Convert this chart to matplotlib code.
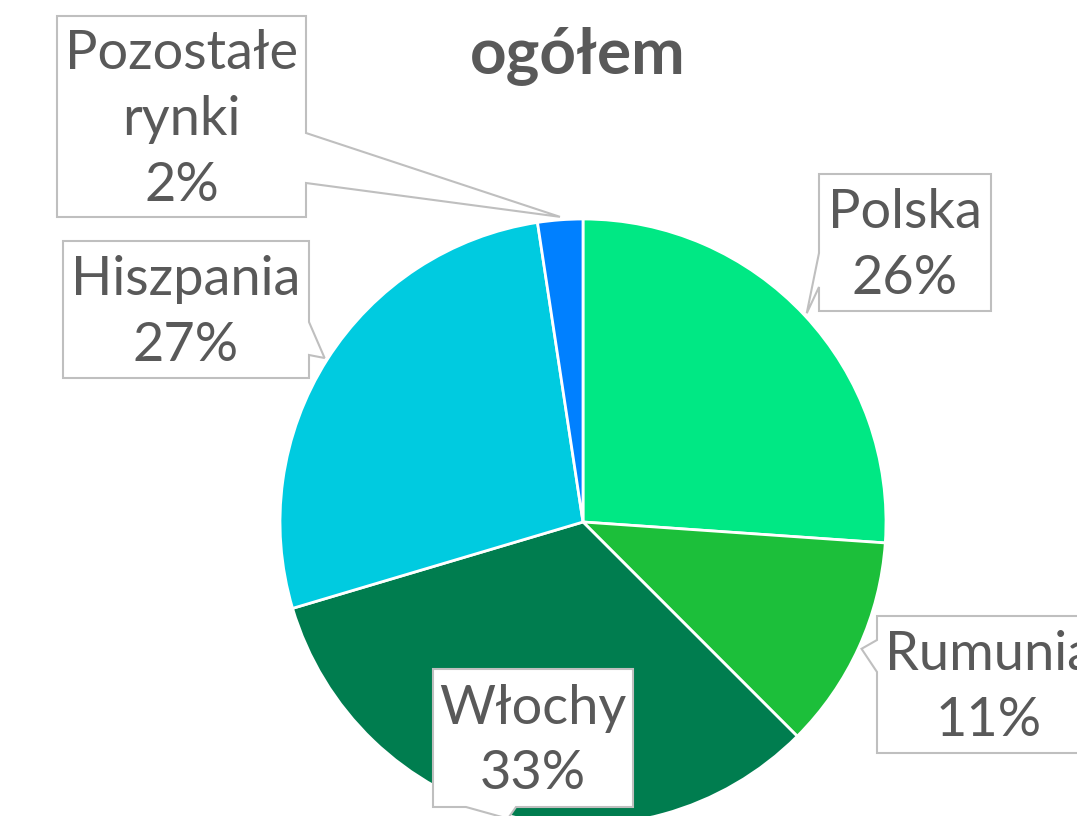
import numpy as np
import matplotlib
matplotlib.use("Agg")
import matplotlib.pyplot as plt
from matplotlib.patches import Polygon

# Data (share of sales per market)
labels = ['Polska', 'Rumunia', 'Włochy', 'Hiszpania', 'Pozostałe\nrynki']
values = [26.1, 11.4, 32.9, 27.2, 2.4]
shown = ['26%', '11%', '33%', '27%', '2%']
colors = ['#00E884', '#1CBF3A', '#007D4F', '#00CBE0', '#0080FF']

plt.rcParams['font.family'] = ['Lato', 'DejaVu Sans']
text_color = '#595959'
border = '#BFBFBF'

fig = plt.figure(figsize=(10.77, 8.16), dpi=100)
ax = fig.add_axes([0, 0, 1, 1])

# pie radius 1 -> 303 px, center at pixel (583, 522)
R = 303.0

wedges, _ = ax.pie(values, colors=colors, startangle=90, counterclock=False,
                   radius=1, center=(0, 0),
                   wedgeprops=dict(edgecolor='white', linewidth=2))
ax.set_xlim(-583 / R, (1077 - 583) / R)
ax.set_ylim(-(816 - 522) / R, 522 / R)
ax.set_aspect('equal')
ax.axis('off')


def px(x, y):
    return ((x - 583) / R, (522 - y) / R)


# callout boxes: (left, top, right, bottom) in pixels, side of notch, notch ends in pixels
boxes = [
    ((819, 174, 991, 311), 'left', (253, 287)),
    ((877, 616, 1101, 753), 'left', (640, 672)),
    ((433, 669, 633, 807), 'bottom', (466, 516)),
    ((63, 241, 309, 378), 'right', (322, 355)),
    ((57, 16, 306, 217), 'right', (133, 183)),
]

for w, lab, txt, (bx, side, notch) in zip(wedges, labels, shown, boxes):
    mid = np.deg2rad((w.theta1 + w.theta2) / 2)
    tip = (1.01 * np.cos(mid), 1.01 * np.sin(mid))
    l, t, r, b = bx
    if side == 'left':
        pts = [px(l, t), px(r, t), px(r, b), px(l, b), px(l, notch[1]), tip, px(l, notch[0])]
    elif side == 'right':
        pts = [px(l, t), px(r, t), px(r, notch[0]), tip, px(r, notch[1]), px(r, b), px(l, b)]
    else:
        pts = [px(l, t), px(r, t), px(r, b), px(notch[1], b), tip, px(notch[0], b), px(l, b)]
    ax.add_patch(Polygon(pts, closed=True, facecolor='white', edgecolor=border,
                         linewidth=1.5, zorder=5, clip_on=False))
    cx, cy = px((l + r) / 2, (t + b) / 2 + 3)
    ax.text(cx, cy, lab + '\n' + txt, ha='center', va='center', fontsize=39,
            color=text_color, linespacing=1.42, zorder=6)

# title (first line is cut off in the reference)
tx, ty = px(578, 56)
ax.text(tx, ty, 'ogółem', ha='center', va='center', fontsize=46,
        fontweight='bold', color=text_color)

fig.savefig('out.png', dpi=100)
